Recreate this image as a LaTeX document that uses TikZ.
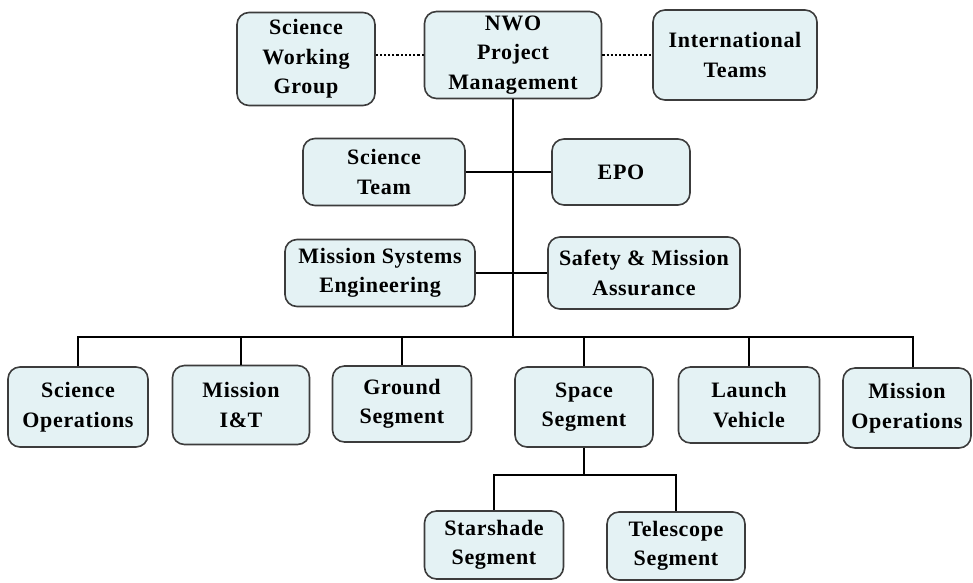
\documentclass[tikz,border=0pt]{standalone}
\usepackage{fontspec}
\setmainfont{Liberation Serif}[LetterSpace=3]
\usepackage{tikz}

\definecolor{boxfill}{RGB}{228,242,244}
\definecolor{boxline}{RGB}{60,60,60}

\tikzset{
    orgbox/.style={draw=boxline, fill=boxfill, line width=1.6pt, rounded corners=12pt,
        align=center, inner sep=0pt, font=\fontsize{22}{29.5}\selectfont\bfseries},
    link/.style={line width=2.8pt, black},
    dotlink/.style={line width=2.2pt, black, dotted}
}

\begin{document}
\begin{tikzpicture}[x=1pt,y=-1pt]
    \useasboundingbox (0,0) rectangle (973,582);
    % top row
    \node[orgbox, minimum width=138pt, minimum height=93pt] (swg) at (306,59) {Science\\Working\\Group};
    \node[orgbox, minimum width=177pt, minimum height=87pt] (nwo) at (513,55) {NWO\\Project\\Management};
    \node[orgbox, minimum width=164pt, minimum height=90pt] (intl) at (735,55) {International\\Teams};
    % staff boxes
    \node[orgbox, minimum width=162pt, minimum height=67pt] (sciteam) at (384,172) {Science\\Team};
    \node[orgbox, minimum width=138pt, minimum height=66pt] (epo) at (621,172) {EPO};
    \node[orgbox, minimum width=190pt, minimum height=67pt] (mse) at (380,273) {Mission Systems\\Engineering};
    \node[orgbox, minimum width=192pt, minimum height=72pt] (sma) at (644,273) {Safety \& Mission\\Assurance};
    % segments
    \node[orgbox, minimum width=140pt, minimum height=80pt] (sciops) at (78,407) {Science\\Operations};
    \node[orgbox, minimum width=137pt, minimum height=79pt] (mit) at (241,405) {Mission\\I\&T};
    \node[orgbox, minimum width=139pt, minimum height=76pt] (ground) at (402,404) {Ground\\Segment};
    \node[orgbox, minimum width=138pt, minimum height=80pt] (space) at (584,407) {Space\\Segment};
    \node[orgbox, minimum width=141pt, minimum height=76pt] (launch) at (749,405) {Launch\\Vehicle};
    \node[orgbox, minimum width=128pt, minimum height=80pt] (mops) at (907,408) {Mission\\Operations};
    \node[orgbox, minimum width=139pt, minimum height=68pt] (starshade) at (494,545) {Starshade\\Segment};
    \node[orgbox, minimum width=138pt, minimum height=68pt] (telescope) at (676,546) {Telescope\\Segment};

    \coordinate (hub) at (513,337);
    \coordinate (split) at (584,475);

    % connectors
    \draw[dotlink] (nwo.west) -- (swg.east |- nwo.west);
    \draw[dotlink] (nwo.east) -- (intl.west |- nwo.east);
    \draw[link] (nwo.south) -- (hub);
    \draw[link] (sciteam.east) -- (epo.west);
    \draw[link] (mse.east) -- (sma.west |- mse.east);
    \draw[link] (sciops.north) |- (hub) -| (mops.north -| 913,0);
    \foreach \seg in {mit, ground, space, launch}
        \draw[link] (\seg.north) -- (\seg.north |- hub);
    \draw[link] (space.south) -- (split);
    \draw[link] (starshade.north) |- (split) -| (telescope.north);
\end{tikzpicture}
\end{document}
